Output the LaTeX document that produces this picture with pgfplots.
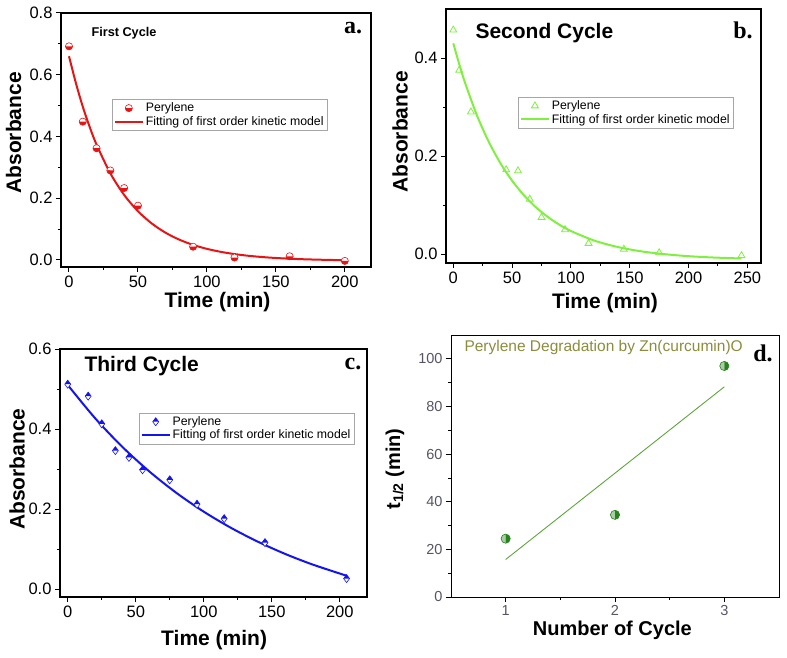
\documentclass[border=0pt]{standalone}
\usepackage{pgfplots}
\pgfplotsset{compat=1.18}
\usepackage{fontspec}
\setmainfont{Liberation Sans}
\newfontfamily\serifb{Liberation Serif}
\definecolor{cred}{RGB}{230,20,20}
\definecolor{cgreen}{RGB}{128,240,64}
\definecolor{cblue}{RGB}{20,20,240}
\definecolor{dgreen}{RGB}{40,130,30}
\definecolor{lgreen}{RGB}{95,165,60}
\definecolor{olive}{RGB}{140,140,60}
\definecolor{tgray}{RGB}{85,85,100}
\pgfplotsset{
  panel/.style={
    scale only axis, anchor=south west,
    axis line style={line width=1.2pt},
    tick align=outside, xtick pos=bottom, ytick pos=left,
    major tick length=5pt, minor tick length=3pt,
    every tick/.style={black, line width=1pt},
    tick label style={font=\fontsize{16.5}{18}\selectfont},
    /pgf/number format/assume math mode=true,
    label style={font=\fontsize{21}{23}\selectfont\bfseries},
    xlabel style={anchor=center},
    ylabel style={anchor=center, rotate=0},
    legend style={draw=gray!70, line width=0.6pt, fill=white,
      font=\fontsize{12.3}{13}\selectfont, inner sep=1.5pt,
      row sep=-1pt, cells={anchor=west}, anchor=north west},
    yticklabel style={/pgf/number format/.cd, fixed, fixed zerofill, precision=1},
  },
  mleg/.style={legend image code/.code={\draw[mark repeat=2,mark phase=2,##1] plot coordinates {(0pt,0pt) (14pt,0pt) (28pt,0pt)};}},
  lleg/.style={legend image code/.code={\draw[##1] (0pt,0pt) -- (28pt,0pt);}},
}
\begin{document}
\begin{tikzpicture}[x=1pt,y=1pt]
\useasboundingbox (0pt,0pt) rectangle (787pt,657pt);

% ---------- panel a ----------
\begin{axis}[panel, at={(61pt,390pt)}, width=310pt, height=254pt,
  xmin=-5.8, xmax=219, ymin=-0.0227, ymax=0.8,
  xtick={0,50,100,150,200}, minor xtick={25,75,125,175},
  ytick={0,0.2,0.4,0.6,0.8}, minor ytick={0.1,0.3,0.5,0.7},
  xlabel={Time (min)}, ylabel={Absorbance},
  xlabel style={at={(axis description cs:0.505,-0.138)}},
  ylabel style={at={(axis description cs:-0.153,0.528)}},
  legend style={at={(axis description cs:0.1645,0.661)}},
]
\addplot[only marks, mark=halfcircle*, mark size=3.6pt, mark color=cred,
  mark options={draw=cred, fill=white, line width=0.6pt}, mleg]
  coordinates {(0,0.692)(10,0.448)(20,0.362)(30,0.290)(40,0.233)(50,0.176)(90,0.043)(120,0.008)(160,0.012)(200,-0.003)};
\addlegendentry{Perylene}
\addplot[cred, line width=2pt, smooth, lleg]
  coordinates {(0,0.660)(5,0.573)(10,0.4966)(15,0.431)(20,0.3734)(30,0.2806)(40,0.2107)(50,0.1581)(60,0.1184)(70,0.0884)(80,0.0659)(90,0.0489)(100,0.0361)(110,0.0265)(120,0.0192)(130,0.0137)(140,0.0096)(150,0.0065)(160,0.0042)(170,0.0024)(180,0.0011)(190,0.0001)(200,-0.0007)};
\addlegendentry{Fitting of first order kinetic model}
\end{axis}

% ---------- panel b ----------
\begin{axis}[panel, at={(446pt,394pt)}, width=315pt, height=254pt,
  xmin=-6.2, xmax=261.6, ymin=-0.018, ymax=0.5,
  xtick={0,50,100,150,200,250}, minor xtick={25,75,125,175,225},
  ytick={0,0.2,0.4}, minor ytick={0.1,0.3},
  xlabel={Time (min)}, ylabel={Absorbance},
  xlabel style={at={(axis description cs:0.505,-0.157)}},
  ylabel style={at={(axis description cs:-0.146,0.516)}},
  legend style={at={(axis description cs:0.229,0.654)}},
]
\addplot[only marks, mark=triangle, mark size=4pt,
  mark options={draw=cgreen, line width=0.8pt}, mleg]
  coordinates {(0,0.457)(5,0.375)(15,0.290)(45,0.172)(55,0.170)(65,0.112)(75,0.075)(95,0.050)(115,0.022)(145,0.010)(175,0.003)(245,-0.003)};
\addlegendentry{Perylene}
\addplot[cgreen, line width=2pt, smooth, lleg]
  coordinates {(0,0.430)(5,0.388)(10,0.3495)(20,0.2837)(30,0.2299)(40,0.1858)(50,0.1498)(60,0.1203)(70,0.0962)(80,0.0765)(90,0.0604)(100,0.0472)(120,0.0276)(140,0.0145)(160,0.0057)(180,-0.0001)(200,-0.0041)(220,-0.0067)(245,-0.0088)};
\addlegendentry{Fitting of first order kinetic model}
\end{axis}

% ---------- panel c ----------
\begin{axis}[panel, at={(60pt,60pt)}, width=307pt, height=248pt,
  xmin=-5.7, xmax=220, ymin=-0.02, ymax=0.6,
  xtick={0,50,100,150,200}, minor xtick={25,75,125,175},
  ytick={0,0.2,0.4,0.6}, minor ytick={0.1,0.3,0.5},
  xlabel={Time (min)}, ylabel={Absorbance},
  xlabel style={at={(axis description cs:0.502,-0.172)}},
  ylabel style={at={(axis description cs:-0.14,0.516)}},
  legend style={at={(axis description cs:0.257,0.743)}},
]
\addplot[only marks, mark=halfdiamond*, mark size=4pt, mark color=cblue,
  mark options={draw=cblue, fill=white, line width=0.6pt}, mleg]
  coordinates {(0,0.512)(15,0.482)(25,0.413)(35,0.346)(45,0.329)(55,0.298)(75,0.273)(95,0.212)(115,0.176)(145,0.116)(205,0.026)};
\addlegendentry{Perylene}
\addplot[cblue, line width=2pt, smooth, lleg]
  coordinates {(0,0.510)(20,0.4274)(40,0.3558)(60,0.2938)(80,0.2400)(100,0.1933)(120,0.1529)(140,0.1179)(160,0.0875)(180,0.0612)(205,0.0332)};
\addlegendentry{Fitting of first order kinetic model}
\end{axis}

% ---------- panel d ----------
\begin{axis}[panel, at={(451pt,60pt)}, width=328pt, height=262pt,
  xmin=0.5, xmax=3.5, ymin=0, ymax=110,
  axis line style={line width=0.8pt},
  every tick/.style={black, line width=0.8pt},
  xtick={1,2,3}, minor xtick={1.5,2.5},
  ytick={0,20,40,60,80,100}, minor ytick={10,30,50,70,90},
  yticklabel style={/pgf/number format/.cd, fixed, precision=0},
  tick label style={font=\fontsize{14.5}{16}\selectfont, text=tgray},
  xlabel={Number of Cycle}, ylabel={t\textsubscript{1/2} (min)},
  label style={font=\fontsize{20}{22}\selectfont\bfseries},
  xlabel style={at={(axis description cs:0.492,-0.126)}},
  ylabel style={at={(axis description cs:-0.171,0.489)}},
]
\addplot[only marks, mark=halfcircle*, mark size=4.6pt, mark color=dgreen,
  mark options={draw=dgreen, fill=dgreen!40!white, rotate=90, line width=0.6pt}]
  coordinates {(1,24.5)(2,34.5)(3,97)};
\addplot[lgreen, line width=0.9pt] coordinates {(1,15.75)(3,88.25)};
\end{axis}

% ---------- titles and panel letters ----------
\node[anchor=west, font=\fontsize{12.7}{14}\selectfont\bfseries] at (88,624) {First Cycle};
\node[anchor=west, font=\fontsize{21}{23}\selectfont\bfseries] at (472,624) {Second Cycle};
\node[anchor=west, font=\fontsize{21}{23}\selectfont\bfseries] at (81,291) {Third Cycle};
\node[anchor=west, font=\fontsize{15.5}{17}\selectfont, text=olive] at (461,310) {Perylene Degradation by Zn(curcumin)O};
\node[font=\fontsize{24}{26}\selectfont\serifb\bfseries] at (353,629) {a.};
\node[font=\fontsize{24}{26}\selectfont\serifb\bfseries] at (743,627) {b.};
\node[font=\fontsize{24}{26}\selectfont\serifb\bfseries] at (353,293) {c.};
\node[font=\fontsize{24}{26}\selectfont\serifb\bfseries] at (763,304) {d.};
\end{tikzpicture}
\end{document}
